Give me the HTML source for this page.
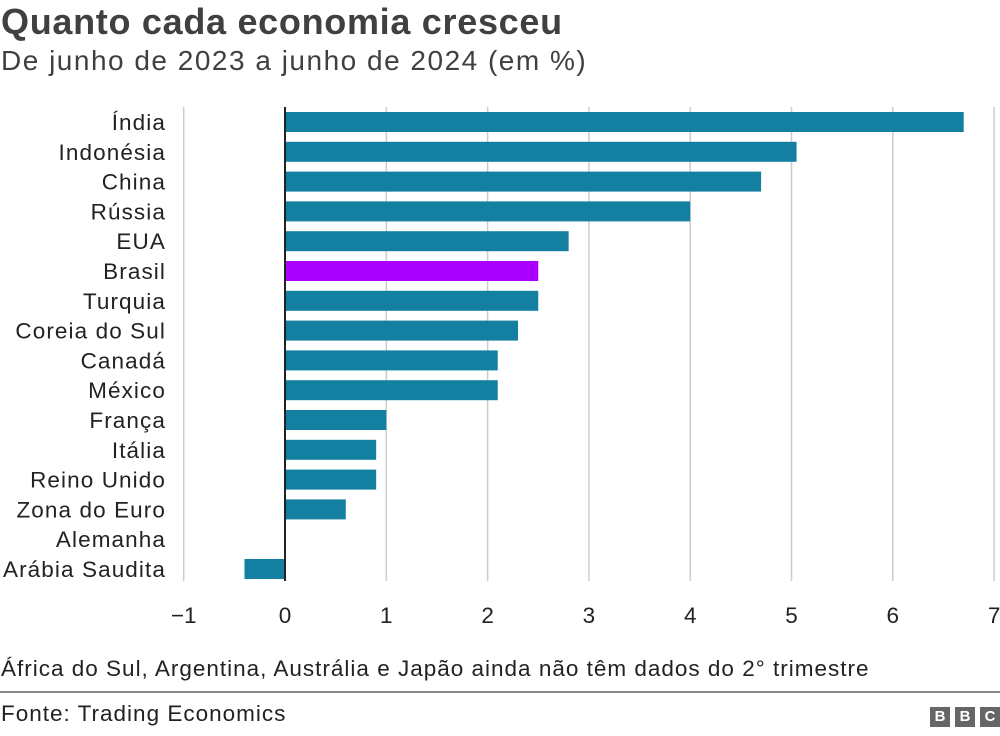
<!DOCTYPE html>
<html><head><meta charset="utf-8"><style>
body{margin:0;width:1000px;height:736px;background:#fff;font-family:"Liberation Sans",sans-serif;overflow:hidden;position:relative}
.t{position:absolute;white-space:nowrap}
</style></head><body>
<div class="t" style="left:1px;top:1px;font-size:36px;letter-spacing:0.7px;font-weight:bold;color:#404040">Quanto cada economia cresceu</div>
<div class="t" style="left:1px;top:45px;font-size:28px;letter-spacing:1.5px;color:#404040">De junho de 2023 a junho de 2024 (em %)</div>
<svg id="chart" width="1000" height="640" style="position:absolute;left:0;top:0"></svg>
<div class="t" style="left:1px;top:656px;font-size:22.5px;letter-spacing:1px;color:#222">África do Sul, Argentina, Austrália e Japão ainda não têm dados do 2° trimestre</div>
<div style="position:absolute;left:0;top:691px;width:1000px;height:2px;background:#888"></div>
<div class="t" style="left:1px;top:701px;font-size:22.5px;letter-spacing:1px;color:#222">Fonte: Trading Economics</div>
<div style="position:absolute;left:930px;top:707px;display:flex;gap:5px">
<span style="width:20px;height:20px;background:#666;color:#fff;font-weight:bold;font-size:15px;text-align:center;line-height:20px">B</span>
<span style="width:20px;height:20px;background:#666;color:#fff;font-weight:bold;font-size:15px;text-align:center;line-height:20px">B</span>
<span style="width:20px;height:20px;background:#666;color:#fff;font-weight:bold;font-size:15px;text-align:center;line-height:20px">C</span>
</div>
<script>
const categories=["Índia","Indonésia","China","Rússia","EUA","Brasil","Turquia","Coreia do Sul","Canadá","México","França","Itália","Reino Unido","Zona do Euro","Alemanha","Arábia Saudita"];
const values=[6.7,5.05,4.7,4.0,2.8,2.5,2.5,2.3,2.1,2.1,1.0,0.9,0.9,0.6,0,-0.4];
const highlight=["Brasil"];
const ticks=[-1,0,1,2,3,4,5,6,7];
const tickLabels=["−1","0","1","2","3","4","5","6","7"];
const NS="http://www.w3.org/2000/svg";
const svg=document.getElementById("chart");
const x0=285,ppu=101.3,yTop=122,step=29.8,bh=20;
const X=v=>x0+v*ppu;
const Y=i=>yTop+i*step;
function mk(tag,attrs){const e=document.createElementNS(NS,tag);for(const k in attrs)e.setAttribute(k,attrs[k]);svg.appendChild(e);return e;}
ticks.forEach((t,i)=>{
 if(t!==0){const g=mk("line",{x1:X(t),x2:X(t),y1:107,y2:581,stroke:"#cccccc","stroke-width":1.5});
 
 }
 const l=mk("text",{x:X(t),y:623,"text-anchor":"middle","font-size":22.5,fill:"#222","font-family":"Liberation Sans, sans-serif"});
 l.textContent=tickLabels[i];
 
 
});
categories.forEach((c,i)=>{
 const v=values[i];
 const r=mk("rect",{x:Math.min(X(0),X(v)),y:Y(i)-bh/2,width:Math.abs(X(v)-X(0)),height:bh,fill:highlight.includes(c)?"#aa00ff":"#1380a1"});
 
 
 const t=mk("text",{x:166,y:Y(i)+8,"text-anchor":"end","font-size":22.5,"letter-spacing":1.1,fill:"#222","font-family":"Liberation Sans, sans-serif"});
 t.textContent=c;
 
 
});
const z=mk("line",{x1:X(0),x2:X(0),y1:107,y2:581,stroke:"#222","stroke-width":2});


</script>
</body></html>
